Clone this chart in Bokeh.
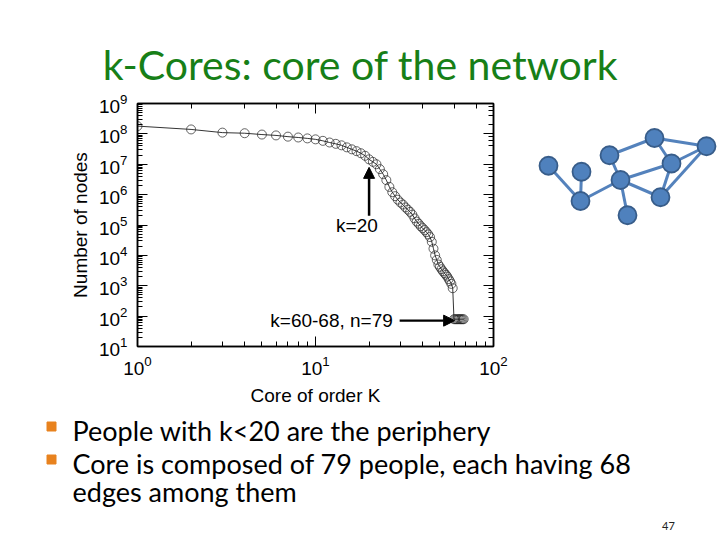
from bokeh.plotting import figure
from bokeh.layouts import column, row
from bokeh.models import Range1d, Arrow, NormalHead, LogAxis, ColumnDataSource, CustomJSTickFormatter
from bokeh.core.properties import value
from bokeh.embed import file_html
from bokeh.resources import INLINE

# ---------------- data ----------------
core_k = list(range(1, 69))
num_nodes = [
    1.8e8, 1.4e8, 1.1e8, 1.05e8, 9.5e7, 8.9e7, 8.1e7, 7.6e7, 7.1e7, 6.6e7,
    5.9e7, 5.2e7, 4.7e7, 4.2e7, 3.6e7, 3.1e7, 2.7e7, 2.3e7, 1.9e7, 1.45e7,
    1.2e7, 1.0e7, 6.9e6, 4.7e6, 3.0e6, 1.8e6, 1.2e6, 8.9e5, 6.8e5, 5.5e5,
    4.7e5, 3.8e5, 3.2e5, 2.7e5, 2.2e5, 1.66e5, 1.3e5, 1.1e5, 9.1e4, 7.9e4,
    6.8e4, 5.8e4, 4.9e4, 4.0e4, 2.8e4, 1.66e4, 1.0e4, 7.1e3, 5.0e3, 4.2e3,
    3.5e3, 3.0e3, 2.6e3, 2.3e3, 2.0e3, 1.66e3, 1.4e3, 1.15e3, 830,
    79, 79, 79, 79, 79, 79, 79, 79, 79,
]

title_text = "k-Cores: core of the network"
bullet_lines = [
    "People with k<20 are the periphery",
    "Core is composed of 79 people, each having 68",
    "edges among them",
]
page_number = "47"

# small illustrative network (node layout positions and edge list)
node_x = [548, 581, 609, 654, 706, 671, 620, 580, 660, 627]
node_y = [171, 179, 157, 134, 145, 168, 190, 218, 213, 237]
edges = [(0, 7), (1, 7), (7, 6), (6, 2), (2, 3), (3, 5), (3, 4), (4, 5),
         (4, 8), (5, 8), (6, 5), (6, 8), (6, 9)]

ARIAL = "Liberation Sans"
BODY = "Lato"

def blank(fig):
    fig.outline_line_color = None
    fig.grid.visible = False
    return fig

# ---------------- title ----------------
tfig = blank(figure(width=720, height=88, x_range=Range1d(0, 720), y_range=Range1d(88, 0),
                    output_backend="svg", toolbar_location=None, min_border=0,
                    x_axis_location=None, y_axis_location=None))
tfig.text(x=[360], y=[64], text=[title_text], text_font=value(BODY),
          text_font_size="41px", text_color="#177F17", text_align="center",
          text_baseline="middle", text_line_height=1.0)

# ---------------- chart ----------------
p = figure(width=528, height=324, x_axis_type="log", y_axis_type="log",
           x_range=Range1d(1, 100), y_range=Range1d(10, 1e9),
           output_backend="svg", toolbar_location=None,
           min_border_left=137, min_border_right=35, min_border_top=15,
           min_border_bottom=66)
p.grid.visible = False
p.outline_line_color = "black"
p.outline_line_width = 1.5
p.outline_line_alpha = 1.0

for ax in (p.xaxis[0], p.yaxis[0]):
    ax.major_tick_in = 10
    ax.major_tick_out = 0
    ax.minor_tick_in = 5
    ax.minor_tick_out = 0
    ax.axis_line_color = "black"
    ax.axis_line_width = 1.5
    ax.major_tick_line_color = "black"
    ax.minor_tick_line_color = "black"
    ax.major_label_text_font = ARIAL
    ax.major_label_text_font_size = "19px"
    ax.major_label_text_color = "black"
    ax.axis_label_text_font = ARIAL
    ax.axis_label_text_font_size = "19px"
    ax.axis_label_text_font_style = "normal"
    ax.axis_label_text_color = "black"

p.xaxis.major_label_standoff = 9
p.xaxis.axis_label_standoff = 7
p.yaxis.major_label_standoff = 10
p.yaxis.axis_label_standoff = 5

p.xaxis.axis_label = "Core of order K"
p.yaxis.axis_label = "Number of nodes"

for side in ("above", "right"):
    ax = LogAxis(major_tick_in=10, major_tick_out=0, minor_tick_in=5, minor_tick_out=0,
                 formatter=CustomJSTickFormatter(code="return ''"),
                 major_label_text_font_size="2px", major_label_standoff=0,
                 axis_line_color="black", axis_line_width=1.5)
    p.add_layout(ax, side)

src = ColumnDataSource(dict(k=core_k, n=num_nodes))
p.line("k", "n", source=src, line_color="black", line_width=0.8)
p.scatter("k", "n", source=src, marker="circle", size=9, fill_color=None,
          line_color="#222222", line_width=0.7)

p.add_layout(Arrow(end=NormalHead(size=11, fill_color="black", line_color="black"),
                   x_start=20, y_start=2.0e5, x_end=20, y_end=7.9e6,
                   line_width=2.5, line_color="black"))
p.text(x=[17.1], y=[9.3e4], text=["k=20"], text_font=value(ARIAL),
       text_font_size="19px", text_align="center", text_baseline="middle",
       text_color="black")
p.add_layout(Arrow(end=NormalHead(size=11, fill_color="black", line_color="black"),
                   x_start=29.7, y_start=71, x_end=60.5, y_end=71,
                   line_width=2.2, line_color="black"))
p.text(x=[27.2], y=[71], text=["k=60-68, n=79"], text_font=value(ARIAL),
       text_font_size="19px", text_align="right", text_baseline="middle",
       text_color="black")

# ---------------- network ----------------
net = blank(figure(width=192, height=324, x_range=Range1d(528, 720), y_range=Range1d(412, 88),
                   output_backend="svg", toolbar_location=None, min_border=0,
                   x_axis_location=None, y_axis_location=None))
net.segment(x0=[node_x[a] for a, b in edges], y0=[node_y[a] for a, b in edges],
            x1=[node_x[b] for a, b in edges], y1=[node_y[b] for a, b in edges],
            line_color="#5482BC", line_width=3)
net.scatter(node_x, node_y, marker="circle", size=18, fill_color="#4F81BD",
            line_color="#385D8A", line_width=1.8)

# ---------------- bullets ----------------
bfig = blank(figure(width=720, height=128, x_range=Range1d(0, 720), y_range=Range1d(540, 412),
                    output_backend="svg", toolbar_location=None, min_border=0,
                    x_axis_location=None, y_axis_location=None))
bfig.scatter([51, 51], [426, 459], marker="square", size=9, fill_color="#E8821E",
             line_color="#E8821E")
bfig.text(x=[72, 72, 72], y=[430, 463, 491], text=bullet_lines, text_font=value(BODY),
          text_font_size="27px", text_color="black", text_align="left",
          text_baseline="middle")
bfig.text(x=[668], y=[525], text=[page_number], text_font=value(BODY),
          text_font_size="11px", text_color="#222222", text_align="center",
          text_baseline="middle")

layout = column(tfig, row(p, net), bfig)
open("out.html", "w").write(file_html(layout, INLINE))
